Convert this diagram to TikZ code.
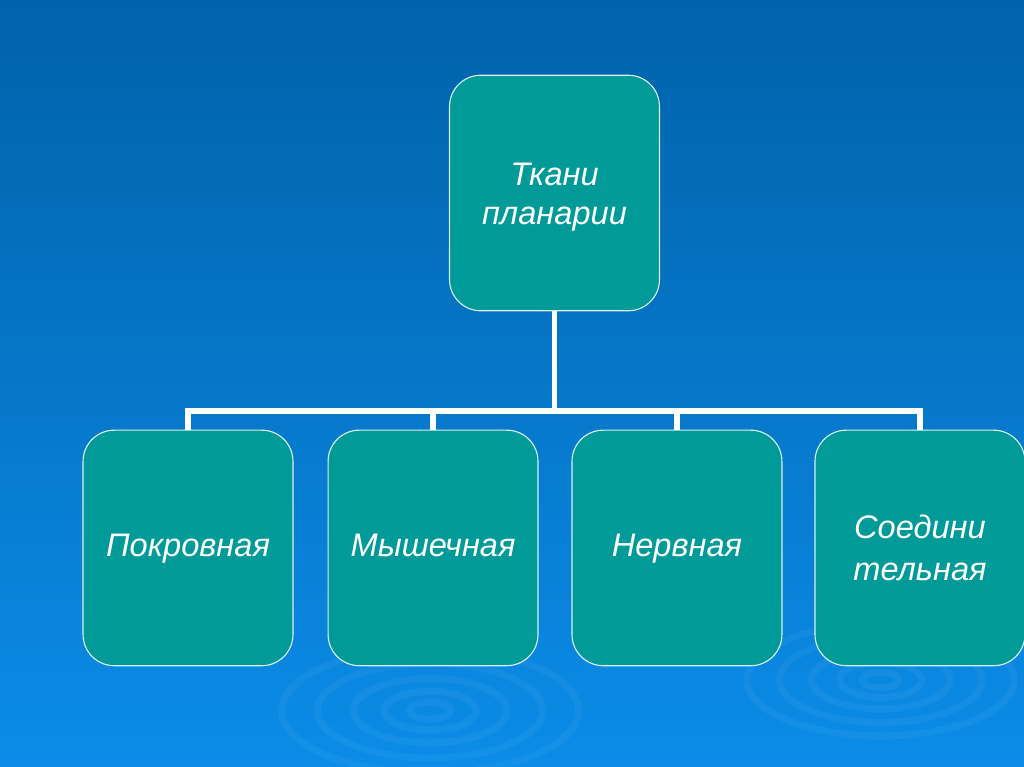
\documentclass[tikz,border=0pt]{standalone}
\usepackage{fontspec}
\setmainfont{Liberation Sans}
\usepackage{xcolor}
\usetikzlibrary{positioning,calc}
\definecolor{slidetop}{HTML}{0062AA}
\definecolor{slidebottom}{HTML}{0B8CE8}
\definecolor{tissueteal}{HTML}{009A99}
\tikzset{
  tissuebox/.style={draw=white!85!tissueteal, fill=tissueteal, line width=0.8pt, rounded corners=22pt,
        minimum width=2.05in, minimum height=2.3in, align=center, text=white,
        font=\itshape\fontsize{23}{30}\selectfont},
  branch/.style={draw=white, line width=4.2pt},
  ripple/.style={draw=white, opacity=0.045, line width=5pt}
}
\newcommand{\ripples}[2]{
  \foreach \r in {0.2,0.45,0.75,1.1,1.45}
    \draw[ripple] #1 ellipse ({\r*#2} and {0.42*\r*#2});
}

\begin{document}
\begin{tikzpicture}[x=1in,y=1in]
\useasboundingbox (0,0) rectangle (10,7.49);
\shade[top color=slidetop, bottom color=slidebottom] (0,0) rectangle (10,7.49);
\ripples{(4.2,0.55)}{1}
\ripples{(8.6,0.85)}{0.9}

\node[tissuebox, font=\itshape\fontsize{23}{27}\selectfont] (tkani) at (5.415,5.605) {\rule{0pt}{25pt}Ткани\\\strut планарии};
\node[tissuebox] (pokr) at (1.836,2.139) {\strut Покровная};
\node[tissuebox] (mysh) at (4.229,2.139) {\strut Мышечная};
\node[tissuebox] (nerv) at (6.611,2.139) {\strut Нервная};
\node[tissuebox] (soed) at (8.984,2.139) {\rule{0pt}{25pt}Соедини\\\strut тельная};

\coordinate (hub) at (5.415,3.476);
\draw[branch] (tkani.south) -- (hub);
\draw[branch] (pokr.north) -- (pokr.north |- hub) -- (soed.north |- hub) -- (soed.north);
\draw[branch] (mysh.north) -- (mysh.north |- hub);
\draw[branch] (nerv.north) -- (nerv.north |- hub);
\end{tikzpicture}
\end{document}
